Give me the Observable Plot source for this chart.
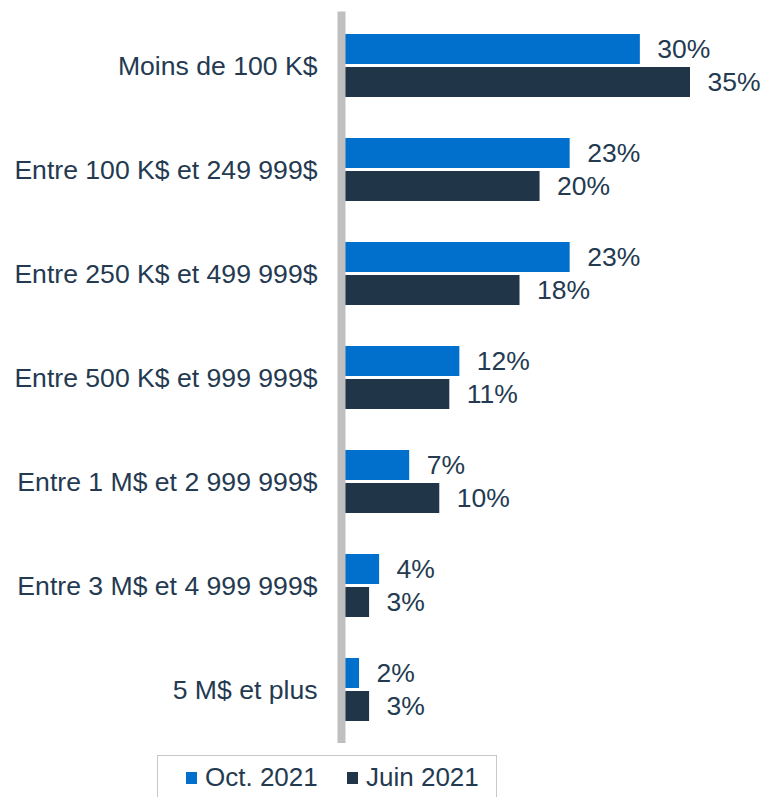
<!DOCTYPE html>
<html>
<head>
<meta charset="utf-8">
<script src="https://cdn.jsdelivr.net/npm/d3@7"></script>
<script src="https://cdn.jsdelivr.net/npm/@observablehq/plot@0.6"></script>
<style>
  html, body { margin: 0; padding: 0; background: #fff; overflow: hidden; }
  #wrap { position: relative; width: 765px; height: 797px; font-family: "Liberation Sans", Arial, sans-serif; color: #243A51; }
  #legend { position: absolute; left: 157px; top: 755px; width: 340px; height: 60px; border: 1px solid #C8C8C8; box-sizing: border-box; }
  .sw { position: absolute; width: 11px; height: 12px; }
  .lt { position: absolute; font-size: 26px; line-height: 26px; white-space: nowrap; }
</style>
</head>
<body>
<div id="wrap"></div>
<script>
const categories = [
  "Moins de 100 K$",
  "Entre 100 K$ et 249 999$",
  "Entre 250 K$ et 499 999$",
  "Entre 500 K$ et 999 999$",
  "Entre 1 M$ et 2 999 999$",
  "Entre 3 M$ et 4 999 999$",
  "5 M$ et plus"
];
const seriesNames = ["Oct. 2021", "Juin 2021"];
const octValues = [30, 23, 23, 12, 7, 4, 2];
const juinValues = [35, 20, 18, 11, 10, 3, 3];
const colors = ["#0070CC", "#213549"];

const oct = categories.map((c, i) => ({cat: c, v: octValues[i]}));
const juin = categories.map((c, i) => ({cat: c, v: juinValues[i]}));

const textColor = "#243A51";

const chart = Plot.plot({
  width: 765,
  height: 750,
  marginLeft: 339,
  marginRight: 75,
  marginTop: 11.6,
  marginBottom: 7.1,
  style: {fontFamily: '"Liberation Sans", Arial, sans-serif', color: textColor, background: "#fff"},
  x: {domain: [0, 35], axis: null},
  y: {domain: categories, paddingInner: 0.397, paddingOuter: 0.19, label: null},
  marks: [
    Plot.barX(oct, {x: "v", y: "cat", fill: colors[0], insetBottom: 33}),
    Plot.barX(juin, {x: "v", y: "cat", fill: colors[1], insetTop: 33}),
    Plot.ruleX([0], {stroke: "#BFBFBF", strokeWidth: 8, dx: 2}),
    Plot.text(oct, {x: "v", y: "cat", text: d => d.v + "%", dx: 17, dy: -16, textAnchor: "start", fontSize: 26.5, fill: textColor}),
    Plot.text(juin, {x: "v", y: "cat", text: d => d.v + "%", dx: 17, dy: 17, textAnchor: "start", fontSize: 26.5, fill: textColor}),
    Plot.axisY({tickSize: 0, tickPadding: 22, fontSize: 26.6, label: null})
  ]
});

const wrap = document.getElementById("wrap");
wrap.appendChild(chart);

const legend = document.createElement("div");
legend.id = "legend";
wrap.appendChild(legend);
const items = [
  {name: seriesNames[0], color: colors[0], sx: 186, tx: 205},
  {name: seriesNames[1], color: colors[1], sx: 347, tx: 366}
];
for (const it of items) {
  const sw = document.createElement("div");
  sw.className = "sw";
  sw.style.left = it.sx + "px";
  sw.style.top = "772px";
  sw.style.background = it.color;
  wrap.appendChild(sw);
  const t = document.createElement("div");
  t.className = "lt";
  t.style.left = it.tx + "px";
  t.style.top = "764px";
  t.textContent = it.name;
  wrap.appendChild(t);
}
</script>
</body>
</html>
